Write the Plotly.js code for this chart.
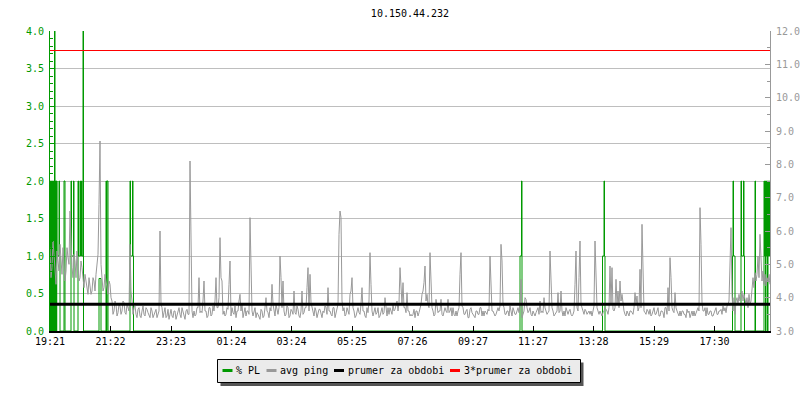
<!DOCTYPE html>
<html>
<head>
<meta charset="utf-8">
<script src="https://cdn.plot.ly/plotly-3.0.1.min.js"></script>
<style>html,body{margin:0;padding:0;background:#fff;}#chart{width:800px;height:400px;}</style>
</head>
<body>
<div id="chart"></div>
<script>
// ---------- DATA ----------
const chartTitle = "10.150.44.232";
// x axis: minutes since 19:21, tick labels
const tickMinutes = [0, 121, 242, 363, 483, 604, 725, 846, 966, 1087, 1208, 1329];
const tickLabels = ["19:21", "21:22", "23:23", "01:24", "03:24", "05:25", "07:26", "09:27", "11:27", "13:28", "15:29", "17:30"];
const sampleStepMin = 2;
// avg ping [ms], one sample every 2 minutes (19:21 ... 19:21 next day)
const avgPing = [
5.5,4.6,4.9,5.7,5.3,4.9,4.4,5.4,5.0,4.8,5.6,5.0,4.7,5.5,5.1,4.5,4.8,5.5,5.2,5.0,6.6,5.6,4.9,4.6,5.3,5.1,4.6,5.4,5.0,4.5,4.6,5.1,4.9,4.6,4.3,4.7,4.5,4.3,4.1,4.6,4.4,4.1,4.2,4.6,4.5,4.2,4.7,5.0,5.3,6.8,8.7,5.0,4.6,4.2,4.3,4.7,4.5,4.3,4.1,4.5,4.4,
4.0,3.9,3.5,3.6,3.9,3.8,3.45,3.55,3.8,3.75,3.5,3.6,3.9,3.85,3.55,3.5,3.8,3.7,3.6,5.6,4.2,3.9,
3.5,3.7,3.75,3.5,3.4,3.65,3.7,3.45,3.4,3.6,3.75,3.5,3.45,3.7,3.65,3.55,3.45,3.4,3.7,3.6,3.4,3.5,3.6,3.65,3.4,3.55,
3.6,6.0,3.8,3.7,
3.4,3.55,3.7,3.4,3.45,3.65,3.35,3.5,3.65,3.45,3.4,3.6,3.6,3.35,3.45,3.55,3.7,3.5,3.4,3.7,3.6,3.45,3.35,3.6,3.65,3.5,
3.5,8.1,5.9,3.6,3.4,3.6,3.45,3.5,3.7,3.7,4.6,3.55,3.6,3.55,3.9,4.5,3.6,3.6,3.4,3.45,3.7,3.7,3.45,3.5,3.75,3.6,3.9,4.6,3.7,3.7,4.0,5.8,4.6,4.5,3.5,3.6,3.45,3.5,3.7,3.65,4.4,5.1,
3.45,3.7,3.55,3.5,3.75,3.4,3.6,3.6,3.9,4.1,3.6,3.8,3.4,3.55,3.7,3.45,3.6,3.6,3.5,6.4,5.1,3.6,3.45,3.6,3.7,3.4,3.55,3.5,3.4,3.35,3.65,3.6,3.4,3.45,3.7,4.0,3.6,3.55,3.4,3.7,3.6,4.4,3.8,3.6,3.45,3.8,3.6,3.5,3.7,5.25,
4.6,3.7,4.5,3.6,3.45,3.5,3.75,3.7,3.4,3.45,3.65,3.6,3.5,4.2,3.55,3.5,3.75,3.65,3.45,3.4,3.6,4.2,3.5,3.55,3.7,3.7,4.3,4.9,3.6,4.7,3.85,3.7,3.5,3.45,3.7,3.6,3.4,3.5,3.65,3.65,3.45,3.4,3.6,3.55,3.75,3.7,3.5,4.3,3.6,3.6,
3.5,3.45,3.7,3.7,3.4,3.55,3.6,3.8,5.9,6.6,6.4,3.9,3.6,3.7,3.45,3.5,3.7,3.6,3.5,4.1,4.2,4.6,3.7,3.6,3.4,3.45,3.6,3.7,3.55,3.5,3.8,4.3,3.6,3.6,3.45,3.4,3.7,3.55,3.9,5.35,4.4,3.6,3.45,3.6,3.7,3.5,3.55,3.7,3.4,3.45,
3.6,3.7,3.5,3.55,4.0,3.6,3.45,3.7,3.5,3.7,3.55,3.5,3.8,3.6,3.65,3.75,3.9,3.6,3.85,4.9,4.5,3.8,4.45,3.7,3.7,3.55,4.15,3.6,3.6,3.45,3.5,3.45,3.5,3.65,3.4,3.6,3.6,3.45,3.55,3.7,3.8,4.1,4.2,4.45,4.95,3.9,4.1,3.8,3.7,5.35,
4.7,3.7,3.6,3.45,3.5,3.95,3.75,3.55,3.6,3.6,3.95,3.5,3.45,3.6,3.7,3.6,3.55,3.95,3.55,3.6,3.7,3.45,3.7,3.5,3.45,3.6,3.45,3.6,3.7,4.7,5.35,3.75,3.7,3.5,3.5,3.6,3.65,3.4,3.4,3.65,3.7,3.55,3.5,3.45,3.4,3.6,3.6,3.5,3.5,3.7,
3.7,3.45,3.6,3.45,3.6,3.55,3.5,3.65,3.6,5.25,4.6,3.6,3.6,3.5,3.45,3.5,3.65,3.7,3.6,3.75,5.6,5.1,3.8,3.7,3.5,3.5,3.6,3.6,3.45,3.75,3.6,3.45,3.7,3.6,3.5,3.5,3.6,3.7,3.55,3.8,4.55,3.4,3.5,3.6,4.0,3.95,3.7,3.55,3.6,3.7,
3.5,3.45,3.6,3.5,3.45,3.55,3.65,3.7,3.5,3.9,3.55,3.6,3.55,4.0,3.7,3.6,3.5,3.55,3.6,5.4,4.55,3.7,3.6,3.45,3.5,3.55,3.6,4.15,3.55,3.6,4.2,3.6,3.45,3.6,3.45,3.7,3.55,3.5,3.6,3.65,3.5,3.45,3.5,3.6,4.4,5.4,3.7,3.6,4.6,5.7,
3.8,3.7,3.55,3.5,3.65,3.6,3.5,3.55,3.6,3.5,3.6,3.45,3.6,3.75,5.7,4.6,3.7,3.6,3.5,3.6,3.5,3.45,3.55,3.6,3.7,3.65,3.6,3.5,3.7,4.95,3.8,4.9,3.65,3.6,3.7,4.55,3.8,4.2,3.7,4.5,3.9,4.1,3.7,3.6,3.5,3.45,3.6,3.5,3.45,3.6,
3.6,3.55,3.5,3.7,4.15,3.8,4.05,3.6,3.7,4.85,3.7,6.2,4.2,3.6,3.55,3.5,3.65,3.6,3.5,3.65,3.45,3.5,3.6,3.7,3.5,3.5,3.6,3.7,3.45,3.45,3.6,3.6,3.55,3.4,3.7,3.7,3.5,4.3,3.6,5.2,4.6,3.7,3.6,3.55,4.15,3.7,3.6,3.5,3.45,3.6,
3.45,3.6,3.6,3.5,3.5,3.4,3.65,3.55,3.6,3.4,3.55,3.6,3.45,3.6,3.45,3.55,3.6,3.7,3.6,6.7,5.6,3.85,3.6,3.6,3.7,3.45,3.7,3.5,3.5,3.6,3.6,3.45,3.45,3.55,3.6,3.7,3.5,3.5,3.6,3.6,3.65,3.5,3.75,3.6,3.7,3.55,3.75,3.8,3.9,4.9,
6.1,4.1,3.6,4.0,3.5,3.9,4.0,3.8,4.1,3.9,4.0,4.2,3.9,4.1,3.9,3.8,4.0,3.7,4.1,3.8,3.9,4.3,4.6,4.3,4.75,4.5,4.7,5.25,4.6,5.9,4.9,4.5,4.8,4.4,4.7,4.35,4.6,4.5,4.7,4.4
];
// packet loss [%] as change points (minute, value)
const plMinutes = [0,1,2,3,4,5,6,7,9,10,11,12,13,13.5,14,18,19,20,28,30,42,43,47,48,56,57,60,61,63,64,66,67,98,102,112,113,114,116,160,161,165,166,167,
940,943,944,1105,1108,1109,1110,1365,1366,1367,1370,1382,1383,1387,1388,1389,1410,1411,
1428,1429,1430,1431,1432,1433,1434,1435,1436,1437,1438,1439,1440];
const plValues = [2,0,2,0,2,0,2,0,4,2,0,2,0,2,1,2,1,0,2,0,2,1,2,0,2,1,2,1,2,1,4,0,0.7,0,2,0,2,0,2,1,2,1,0,
1,2,0,1,2,1,0,1,2,1,0,2,1,2,1,0,2,0,
2,1,2,0,2,1,2,0,2,1,2,1,2];
const meanPing = 3.805;              // prumer za obdobi [ms]
const tripleMeanPing = 3 * meanPing; // 3*prumer za obdobi
const seriesNames = ["% PL", "avg ping", "prumer za obdobi", "3*prumer za obdobi"];
const seriesColors = ["#009900", "#999999", "#000000", "#ff0000"];

// ---------- CHART ----------
const totalMinutes = 1440;
const pingMinutes = avgPing.map((_, i) => i * sampleStepMin);
const FONT = "DejaVu Sans Mono, monospace";

const traces = [
  {x: plMinutes, y: plValues, name: seriesNames[0], type: "scatter", mode: "lines",
   line: {color: seriesColors[0], width: 1, shape: "hv"}, yaxis: "y"},
  {x: pingMinutes, y: avgPing, name: seriesNames[1], type: "scatter", mode: "lines",
   line: {color: seriesColors[1], width: 1}, yaxis: "y2"},
  {x: [0, totalMinutes], y: [meanPing, meanPing], name: seriesNames[2], type: "scatter", mode: "lines",
   line: {color: seriesColors[2], width: 3}, yaxis: "y2"},
  {x: [0, totalMinutes], y: [tripleMeanPing, tripleMeanPing], name: seriesNames[3], type: "scatter", mode: "lines",
   line: {color: seriesColors[3], width: 1}, yaxis: "y2"}
];

// plot area in pixels
const PL = 50, PR = 770, PT = 31, PB = 331;
const px = v => (v - PL) / (PR - PL);
const py = v => (PB - v) / (PB - PT);

// custom legend (box, shadow, swatches, labels)
const legBox = {x0: 217.5, x1: 580.5, y0: 359.5, y1: 382.5};
const swatchX = [222.5, 266.5, 334, 450];
const labelX = [236, 280, 347.5, 463.5];
const legY = 370.5;
const shapes = [
  {type: "rect", xref: "paper", yref: "paper", x0: px(legBox.x0 + 3), x1: px(legBox.x1 + 3), y0: py(legBox.y1 + 3.5), y1: py(legBox.y0 + 3),
   fillcolor: "#555555", line: {width: 0}, layer: "above"},
  {type: "rect", xref: "paper", yref: "paper", x0: px(legBox.x0), x1: px(legBox.x1), y0: py(legBox.y1), y1: py(legBox.y0),
   fillcolor: "#ebebeb", line: {color: "#000000", width: 1}, layer: "above"}
];
const annotations = [];
seriesNames.forEach((n, k) => {
  shapes.push({type: "line", xref: "paper", yref: "paper", x0: px(swatchX[k]), x1: px(swatchX[k] + 10), y0: py(legY), y1: py(legY),
    line: {color: seriesColors[k], width: 3}, layer: "above"});
  annotations.push({xref: "paper", yref: "paper", x: px(labelX[k]), y: py(legY), xanchor: "left", yanchor: "middle",
    text: n, showarrow: false, font: {family: FONT, size: 10, color: "#000"}, borderpad: 0, borderwidth: 0});
});

const layout = {
  width: 800, height: 400,
  margin: {l: PL, r: 800 - PR, t: PT, b: 400 - PB},
  paper_bgcolor: "#ffffff", plot_bgcolor: "#ffffff",
  showlegend: false,
  font: {family: FONT, size: 10, color: "#000"},
  title: {text: chartTitle, font: {family: FONT, size: 10, color: "#000"},
          x: 0.5, xref: "paper", xanchor: "center", y: 1 - 13.5 / 400, yref: "container", yanchor: "middle"},
  xaxis: {range: [0, totalMinutes], tickmode: "array", tickvals: tickMinutes, ticktext: tickLabels,
          showgrid: false, zeroline: false, showline: true, linecolor: "#000", linewidth: 2,
          ticks: "inside", ticklen: 5, tickcolor: "#000", tickwidth: 1,
          tickfont: {family: FONT, size: 10, color: "#000"}, fixedrange: true},
  yaxis: {range: [0, 4], dtick: 0.5, tick0: 0, tickformat: ".1f", showgrid: true, gridcolor: "#bebebe", gridwidth: 1,
          zeroline: false, showline: true, linecolor: "#009900", linewidth: 1,
          ticks: "inside", ticklen: 5, tickcolor: "#009900", ticklabelstandoff: 3,
          minor: {dtick: 0.1, ticks: "inside", ticklen: 3, tickcolor: "#009900", showgrid: false},
          tickfont: {family: FONT, size: 10, color: "#009900"}, fixedrange: true},
  yaxis2: {range: [3, 12], dtick: 1, tick0: 3, tickformat: ".1f", overlaying: "y", side: "right",
           showgrid: false, zeroline: false, showline: true, linecolor: "#999999", linewidth: 1,
           ticks: "inside", ticklen: 5, tickcolor: "#999999", ticklabelstandoff: 3,
           minor: {dtick: 0.5, ticks: "inside", ticklen: 3, tickcolor: "#999999", showgrid: false},
           tickfont: {family: FONT, size: 10, color: "#999999"}, fixedrange: true},
  shapes: shapes,
  annotations: annotations
};

Plotly.newPlot("chart", traces, layout, {displayModeBar: false, staticPlot: true});
</script>
</body>
</html>
